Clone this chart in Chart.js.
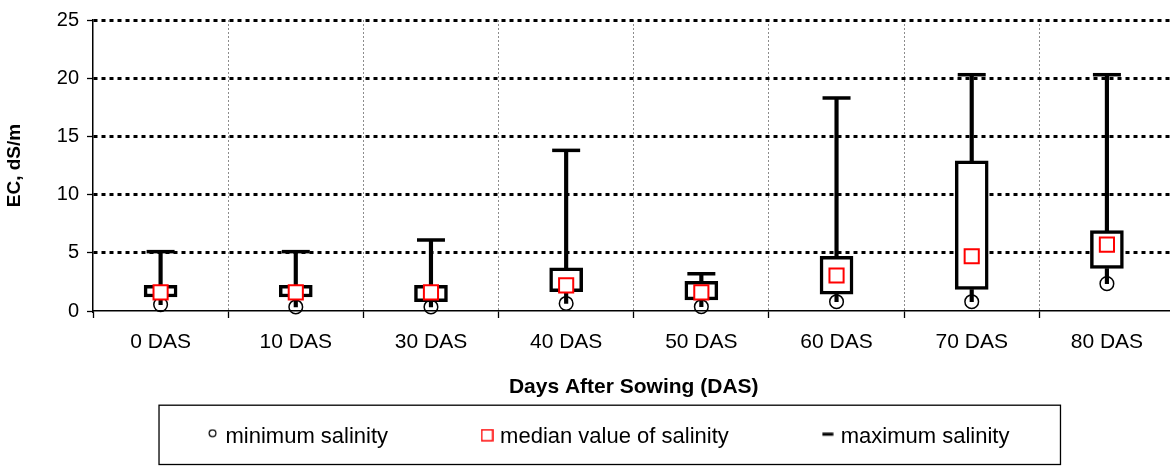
<!DOCTYPE html>
<html>
<head>
<meta charset="utf-8">
<script src="https://cdn.jsdelivr.net/npm/chart.js@4.4.1/dist/chart.umd.min.js"></script>
<style>
html, body { margin: 0; padding: 0; background: #fff; overflow: hidden; }
#salinityChartContainer { position: relative; width: 1192px; height: 466px; }
</style>
</head>
<body>
<div id="salinityChartContainer"><canvas id="salinityChart"></canvas></div>
<script>
// values (EC, dS/m)
var days = ['0 DAS', '10 DAS', '30 DAS', '40 DAS', '50 DAS', '60 DAS', '70 DAS', '80 DAS'];
var minSalinity = [0.55, 0.35, 0.35, 0.65, 0.37, 0.8, 0.8, 2.35];
var lowerQuartile = [1.2, 1.2, 0.8, 1.65, 0.95, 1.45, 1.85, 3.65];
var medianSalinity = [1.6, 1.6, 1.6, 2.2, 1.6, 3.05, 4.7, 5.7];
var upperQuartile = [2.2, 2.2, 2.2, 3.7, 2.55, 4.7, 12.9, 6.9];
var maxSalinity = [5.1, 5.1, 6.1, 13.8, 3.2, 18.3, 20.3, 20.3];
var yTicks = [0, 5, 10, 15, 20, 25];

var legendOrder = ['minimum salinity', 'median value of salinity', 'maximum salinity'];
var legendGap = 97;
var legendFontSize = 22;

Chart.defaults.font.family = "'Liberation Sans', Arial, sans-serif";
Chart.defaults.color = '#000';

var boxData = days.map(function (d, i) { return [lowerQuartile[i], upperQuartile[i]]; });
var upperWhisker = days.map(function (d, i) { return [upperQuartile[i], maxSalinity[i]]; });
var lowerWhisker = days.map(function (d, i) { return [minSalinity[i], lowerQuartile[i]]; });

function legendMark(w, h, lift, paint) {
        var c = document.createElement('canvas');
        c.width = w;
        c.height = h + 2 * lift;
        paint(c.getContext('2d'));
        return c;
}
var legendMarks = {
        'minimum salinity': legendMark(9, 9, 4, function (g) {
                g.lineWidth = 1.2; g.strokeStyle = '#000';
                g.beginPath(); g.arc(4.5, 4.5, 3.4, 0, Math.PI * 2); g.stroke();
        }),
        'median value of salinity': legendMark(13, 13, 2, function (g) {
                g.lineWidth = 1.5; g.strokeStyle = '#ff0000';
                g.strokeRect(1, 1, 11, 11);
        }),
        'maximum salinity': legendMark(12, 4, 3, function (g) {
                g.fillStyle = '#000';
                g.fillRect(0.5, 0.5, 11, 3);
        })
};

// legend padding is used for the wide horizontal gaps; pull the row back up and draw the frame
var legendFrame = {
        id: 'legendFrame',
        afterLayout: function (chart) {
                var lg = chart.legend;
                chart.$legendBox = { top: lg.top, bottom: lg.bottom };
                var shiftX = 610 - (lg.left + lg.right) / 2;
                lg.top += 32 - legendGap - legendFontSize / 2;
                lg.left += shiftX;
                lg.right += shiftX;
        },
        afterDraw: function (chart) {
                var boxes = chart.legend.legendHitBoxes;
                if (!boxes || !boxes.length) return;
                var first = boxes[0], last = boxes[boxes.length - 1];
                var x1 = first.left - 51.5;
                var x2 = last.left + last.width + 51;
                var ctx = chart.ctx;
                ctx.save();
                ctx.lineWidth = 1.3;
                ctx.strokeStyle = '#000';
                ctx.strokeRect(x1, chart.$legendBox.top, x2 - x1, chart.$legendBox.bottom - 1.5 - chart.$legendBox.top);
                ctx.restore();
        }
};

var salinityConfig = {
  type: 'bar',
  data: {
    labels: days,
        datasets: [
        {
        type: 'line',
        label: 'median value of salinity',
        data: medianSalinity,
        showLine: false,
        pointStyle: 'rect',
        pointRadius: 10,
        pointHoverRadius: 10,
        pointBorderWidth: 2,
        pointBorderColor: '#ff0000',
        pointBackgroundColor: '#ffffff',
        borderColor: '#ff0000',
        backgroundColor: '#ffffff',
        order: 0
        },
        {
        type: 'line',
        label: 'minimum salinity',
        data: minSalinity,
        showLine: false,
        pointStyle: 'circle',
        pointRadius: 6.8,
        pointHoverRadius: 6.8,
        pointBorderWidth: 1.5,
        pointBorderColor: '#000',
        pointBackgroundColor: 'rgba(0,0,0,0)',
        borderColor: '#000',
        backgroundColor: 'rgba(0,0,0,0)',
        clip: false,
        order: 1
        },
        {
        type: 'line',
        label: 'maximum salinity',
        data: maxSalinity,
        showLine: false,
        pointStyle: 'line',
        pointRadius: 14,
        pointHoverRadius: 14,
        pointBorderWidth: 3.5,
        pointBorderColor: '#000',
        borderColor: '#000',
        backgroundColor: '#000',
        clip: false,
        order: 2
        },
        {
        label: 'box',
        data: boxData,
        backgroundColor: '#ffffff',
        borderColor: '#000',
        borderWidth: 3.5,
        borderSkipped: false,
        barThickness: 33,
        grouped: false,
        order: 3
        },
        {
        label: 'upper whisker',
        data: upperWhisker,
        backgroundColor: '#000',
        borderWidth: 0,
        barThickness: 3.5,
        grouped: false,
        order: 4
        },
        {
        label: 'lower whisker',
        data: lowerWhisker,
        backgroundColor: '#000',
        borderWidth: 0,
        barThickness: 3.5,
        grouped: false,
        order: 4
        }
        ]
  },
  options: {
    responsive: true,
    maintainAspectRatio: false,
    animation: false,
    layout: { padding: { top: 18, right: 2, bottom: 0, left: 0 } },
    plugins: {
      tooltip: { enabled: false },
      legend: {
        position: 'bottom',
        maxHeight: 60.8,
        labels: {
          usePointStyle: true,
          boxWidth: 4,
          padding: legendGap,
          color: '#000',
          font: { size: legendFontSize },
          filter: function (item) { return legendOrder.indexOf(item.text) >= 0; },
          sort: function (a, b) { return legendOrder.indexOf(a.text) - legendOrder.indexOf(b.text); },
          generateLabels: function (chart) {
            var items = Chart.defaults.plugins.legend.labels.generateLabels(chart);
            items.forEach(function (it) {
              if (legendMarks[it.text]) it.pointStyle = legendMarks[it.text];
            });
            return items;
          }
        }
      }
    },
    scales: {
      x: {
        offset: true,
        grid: {
          offset: true,
          color: function (c) { return c.index === 0 ? 'rgba(0,0,0,0)' : '#8c8c8c'; },
          lineWidth: 1,
          tickLength: 7,
          tickWidth: 1.3,
          tickColor: '#000'
        },
        border: { color: '#000', width: 1.5, dash: [2, 2] },
        ticks: { padding: 12, font: { size: 21 }, color: '#000' },
        title: {
          display: true,
          text: 'Days After Sowing (DAS)',
          font: { size: 21, weight: 'bold' },
          color: '#000',
          padding: { top: 7.8, bottom: 5 }
        }
      },
      y: {
        min: yTicks[0],
        max: yTicks[yTicks.length - 1],
        afterFit: function (scale) { scale.width = 93; },
        afterBuildTicks: function (scale) {
          scale.ticks = yTicks.map(function (v) { return { value: v }; });
        },
        grid: {
          color: function (c) { return c.tick && c.tick.value === 0 ? 'rgba(0,0,0,0)' : '#000'; },
          lineWidth: 3,
          tickLength: 6,
          tickWidth: 1.3,
          tickColor: '#000'
        },
        border: { color: '#000', width: 1.5, dash: [4, 4] },
        ticks: { padding: 8, font: { size: 20 }, color: '#000' },
        title: {
          display: true,
          text: 'EC, dS/m',
          font: { size: 19, weight: 'bold' },
          color: '#000',
          padding: { top: 3, bottom: 0 }
        }
      }
    }
  },
  plugins: [legendFrame]
};

var ctx = document.getElementById('salinityChart').getContext('2d');
var salinityChart = new Chart(ctx, salinityConfig);
</script>
</body>
</html>
